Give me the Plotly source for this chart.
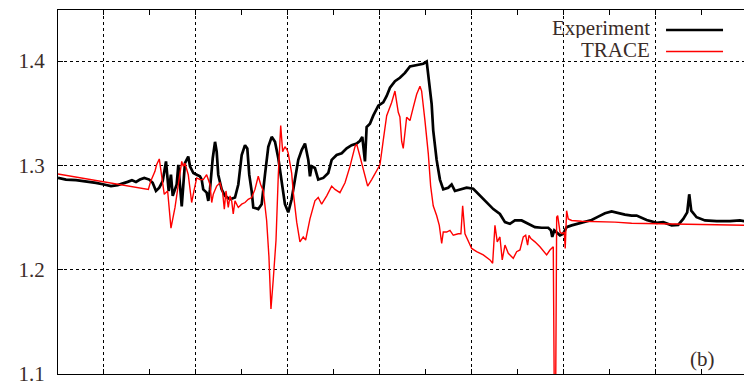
import plotly.graph_objects as go

# ---- data (x: arbitrary units, y: ratio) ----
exp_x = [0, 0.87, 1.96, 3.04, 4.13, 5.0, 5.76, 6.49, 7.03, 7.57, 8.04, 8.48, 8.91, 9.38, 9.92,
         10.29, 10.65, 11.01, 11.38, 11.74, 12.03, 12.28, 12.47, 12.90, 13.08, 13.26, 13.45,
         13.80, 14.16, 14.35, 14.71, 15.08, 15.43, 15.62, 15.79, 16.16, 16.34, 16.52, 16.82,
         17.07, 17.25, 17.42, 17.79, 18.15, 18.70, 19.24, 19.60, 19.97, 20.33, 20.58, 20.79,
         21.05, 21.23, 21.77, 22.14, 22.50, 22.86, 23.23, 23.59, 23.95, 24.32, 24.67, 25.03,
         25.40, 25.76, 26.12, 26.49, 26.85, 27.21, 27.39, 27.58, 27.93, 28.29, 28.84, 29.38,
         29.75, 30.29, 30.84, 31.38, 31.92, 32.47, 32.83, 33.08, 33.18, 33.37, 33.55, 33.91,
         34.27, 34.82, 35.36, 35.73, 36.09, 36.63, 37.17, 37.53, 37.72, 38.26, 38.99, 39.71,
         40.08, 40.25, 40.62, 40.79, 41.16, 41.52, 41.88, 42.42, 42.79, 43.15, 43.70, 44.42,
         45.14, 45.87, 46.60, 47.32, 48.04, 48.59, 49.13, 49.67, 50.40, 51.12, 51.85, 52.58,
         53.29, 53.59, 53.73, 53.95, 54.21, 54.57, 54.92, 55.29, 55.84, 56.55, 57.28, 58.01,
         58.73, 59.46, 60.18, 60.90, 61.63, 62.36, 62.90, 63.99, 65.08, 65.79, 66.71, 67.42,
         67.97, 68.40, 68.62, 68.84, 69.42, 70.33, 71.60, 73.04, 74.13, 74.9]
exp_y = [1.288, 1.2864, 1.2858, 1.2849, 1.2833, 1.2817, 1.2802, 1.2811, 1.2824, 1.2842, 1.2858,
         1.2842, 1.2864, 1.288, 1.2864, 1.2833, 1.2755, 1.2786, 1.2849, 1.3038, 1.2755, 1.2911,
         1.2708, 1.2817, 1.3006, 1.2817, 1.2607, 1.3022, 1.3085, 1.2991, 1.2927, 1.2911, 1.2896,
         1.2864, 1.277, 1.2739, 1.266, 1.277, 1.3069, 1.3226, 1.3132, 1.2911, 1.277, 1.2708,
         1.2675, 1.2692, 1.2817, 1.31, 1.3194, 1.3163, 1.2911, 1.2755, 1.2597, 1.2581, 1.2628,
         1.2911, 1.3179, 1.3274, 1.3226, 1.3069, 1.2817, 1.2628, 1.255, 1.2675, 1.2864, 1.3053,
         1.3147, 1.321, 1.3053, 1.2896, 1.2991, 1.2975, 1.2864, 1.288, 1.2927, 1.3053, 1.31,
         1.3116, 1.3163, 1.3194, 1.321, 1.3236, 1.3274, 1.321, 1.3038, 1.3368, 1.3399, 1.3477,
         1.3572, 1.3604, 1.3666, 1.3745, 1.3808, 1.384, 1.3871, 1.3887, 1.3949, 1.3965, 1.3975,
         1.3996, 1.3871, 1.3588, 1.3336, 1.3053, 1.2864, 1.277, 1.2786, 1.2817, 1.2755, 1.277,
         1.2786, 1.2776, 1.2708, 1.2644, 1.2581, 1.2534, 1.2456, 1.244, 1.2472, 1.2472, 1.244,
         1.2408, 1.2402, 1.2402, 1.2377, 1.2314, 1.2377, 1.2361, 1.233, 1.2345, 1.2408, 1.2425,
         1.244, 1.2456, 1.2477, 1.2509, 1.2541, 1.2559, 1.2541, 1.2528, 1.2519, 1.2519, 1.2477,
         1.2449, 1.2456, 1.2425, 1.243, 1.2487, 1.255, 1.2723, 1.2566, 1.2503, 1.2472, 1.2465,
         1.2465, 1.2472, 1.2462]

trace_x = [0, 9.82, 10.08, 10.37, 10.54, 10.72, 11.01, 11.30, 11.55, 11.92, 12.28, 12.72, 13.26,
           13.45, 13.62, 13.80, 14.16, 14.42, 14.53, 14.78, 15.08, 15.43, 15.79, 16.16, 16.52,
           16.71, 16.88, 17.25, 17.61, 17.90, 18.08, 18.26, 18.51, 18.70, 18.88, 19.05, 19.24,
           19.60, 19.97, 20.33, 20.68, 21.05, 21.41, 21.77, 22.03, 22.32, 22.68, 22.93, 23.15,
           23.40, 23.70, 23.95, 24.21, 24.42, 24.67, 24.92, 25.03, 25.40, 25.58, 25.95, 26.30,
           26.66, 26.92, 27.39, 27.93, 28.29, 28.66, 29.21, 29.75, 30.11, 30.65, 31.20, 31.74,
           32.28, 32.47, 32.83, 33.37, 33.66, 34.10, 34.64, 35.0, 35.36, 35.73, 36.27, 36.63,
           36.99, 37.17, 37.36, 37.53, 37.90, 38.26, 38.62, 38.99, 39.35, 39.53, 39.89, 40.25,
           40.51, 40.79, 41.16, 41.45, 41.71, 41.88, 42.25, 42.61, 42.97, 43.51, 43.80, 43.99,
           44.24, 44.60, 44.97, 45.51, 46.23, 46.96, 47.25, 47.50, 47.75, 48.04, 48.29, 48.59,
           48.95, 49.49, 49.86, 50.22, 50.58, 50.84, 51.05, 51.20, 51.41, 51.85, 52.39, 53.12,
           53.48, 53.84, 53.95, 54.10, 54.21, 54.32, 54.57, 54.82, 55.03, 55.14, 55.29, 55.47,
           55.84, 56.92, 58.73, 60.54, 62.36, 67.61, 74.9]
trace_y = [1.2918, 1.277, 1.2849, 1.2911, 1.2943, 1.3006, 1.3062, 1.288, 1.2723, 1.2755, 1.2399,
           1.2597, 1.2911, 1.3038, 1.2991, 1.3022, 1.2911, 1.2755, 1.2644, 1.2755, 1.288, 1.2864,
           1.2864, 1.2911, 1.2817, 1.2644, 1.2723, 1.2802, 1.2833, 1.2739, 1.2581, 1.2755, 1.2597,
           1.2708, 1.266, 1.2534, 1.266, 1.2597, 1.2628, 1.2644, 1.2675, 1.2692, 1.277, 1.2896,
           1.2817, 1.2755, 1.2472, 1.2125, 1.1623, 1.1906, 1.2283, 1.2911, 1.3383, 1.3132, 1.3179,
           1.3147, 1.3116, 1.2927, 1.2739, 1.2456, 1.2267, 1.2314, 1.2283, 1.2487, 1.266, 1.2692,
           1.2628, 1.2708, 1.2802, 1.277, 1.2739, 1.2833, 1.2991, 1.3179, 1.3204, 1.3085, 1.2896,
           1.2802, 1.2864, 1.2943, 1.3006, 1.3242, 1.3477, 1.3604, 1.3713, 1.3509, 1.3465, 1.3229,
           1.3163, 1.3462, 1.343, 1.3557, 1.3682, 1.376, 1.3713, 1.343, 1.3116, 1.2802, 1.2613,
           1.2519, 1.2425, 1.2251, 1.2361, 1.2361, 1.2377, 1.233, 1.2345, 1.2345, 1.2613, 1.2345,
           1.2267, 1.2204, 1.2173, 1.2142, 1.2094, 1.2062, 1.2425, 1.2267, 1.2314, 1.2094, 1.2236,
           1.2157, 1.2109, 1.2173, 1.2189, 1.2314, 1.233, 1.2236, 1.233, 1.2298, 1.2267, 1.222,
           1.2142, 1.2189, 1.222, 1.08, 1.08, 1.2503, 1.2519, 1.2361, 1.2345, 1.2361, 1.2204,
           1.2566, 1.2487, 1.2472, 1.2465, 1.2462, 1.2456, 1.2446, 1.2437, 1.2425]

y_ticks = [1.1, 1.2, 1.3, 1.4]
y_labels = ["1.1", "1.2", "1.3", "1.4"]
x_major = [5, 15, 25, 35, 45, 55, 65]
x_minor = [0, 10, 20, 30, 40, 50, 60, 70]

FONT = "Liberation Serif"
TXT = "#3a2c28"

fig = go.Figure()
fig.add_trace(go.Scatter(x=exp_x, y=exp_y, mode="lines", name="Experiment",
                         line=dict(color="black", width=2.7), showlegend=False))
fig.add_trace(go.Scatter(x=trace_x, y=trace_y, mode="lines", name="TRACE",
                         line=dict(color="#ff0000", width=1.4), showlegend=False))

fig.update_layout(
    width=744, height=379,
    margin=dict(l=50, r=5, t=1, b=8),
    paper_bgcolor="white", plot_bgcolor="white",
    font=dict(family=FONT, size=21, color=TXT),
    xaxis=dict(range=[0, 74.9], tickvals=x_major, showticklabels=False,
               ticks="inside", ticklen=5, tickcolor="black", tickwidth=1,
               showgrid=True, gridcolor="black", griddash="dot", gridwidth=1,
               showline=True, linecolor="black", linewidth=1, mirror="ticks",
               zeroline=False,
               minor=dict(tickvals=x_minor, ticks="inside", ticklen=5,
                          tickcolor="black", showgrid=False)),
    yaxis=dict(range=[1.1, 1.449], tickvals=y_ticks, ticktext=y_labels,
               ticks="inside", ticklen=5, tickcolor="black", tickwidth=1,
               showgrid=True, gridcolor="black", griddash="dot", gridwidth=1,
               showline=True, linecolor="black", linewidth=1, mirror="ticks",
               zeroline=False, ticklabelstandoff=8, ticklabeloverflow="allow",
               tickfont=dict(family=FONT, size=21, color=TXT)),
    shapes=[
        dict(type="rect", xref="paper", yref="paper", x0=0.6824, x1=0.984, y0=0.852, y1=1.0,
             fillcolor="white", line=dict(width=0), layer="between"),
        dict(type="line", xref="paper", yref="paper", x0=0.8825, x1=0.9652, y0=0.945, y1=0.945,
             line=dict(color="black", width=2.7)),
        dict(type="line", xref="paper", yref="paper", x0=0.8825, x1=0.9652, y0=0.886, y1=0.886,
             line=dict(color="#ff0000", width=1.4)),
    ],
    annotations=[
        dict(text="Experiment", xref="paper", yref="paper", x=0.8622, y=0.95,
             xanchor="right", yanchor="middle", showarrow=False, height=20,
             font=dict(family=FONT, size=21, color=TXT)),
        dict(text="TRACE", xref="paper", yref="paper", x=0.8622, y=0.889,
             xanchor="right", yanchor="middle", showarrow=False, height=20,
             font=dict(family=FONT, size=21, color=TXT)),
        dict(text="(b)", xref="paper", yref="paper", x=0.9355, y=0.04,
             xanchor="center", yanchor="middle", showarrow=False,
             font=dict(family=FONT, size=21, color=TXT)),
    ],
)

fig.write_html("out.html")
